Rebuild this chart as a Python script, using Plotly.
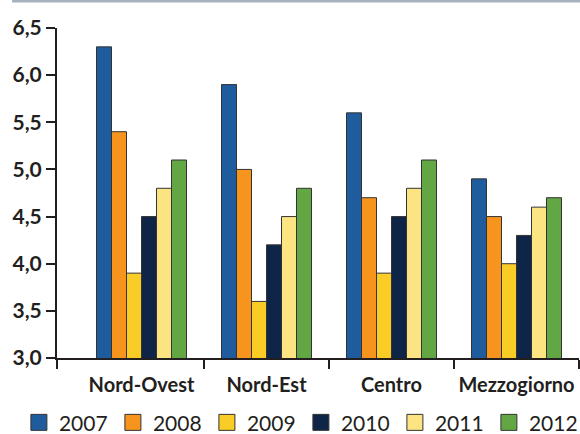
import plotly.graph_objects as go

categories = ["Nord-Ovest", "Nord-Est", "Centro", "Mezzogiorno"]
years = ["2007", "2008", "2009", "2010", "2011", "2012"]
v2007 = [6.3, 5.9, 5.6, 4.9]
v2008 = [5.4, 5.0, 4.7, 4.5]
v2009 = [3.9, 3.6, 3.9, 4.0]
v2010 = [4.5, 4.2, 4.5, 4.3]
v2011 = [4.8, 4.5, 4.8, 4.6]
v2012 = [5.1, 4.8, 5.1, 4.7]
series = [v2007, v2008, v2009, v2010, v2011, v2012]
colors = ["#1f5c9e", "#f7941d", "#f9cc26", "#0f2548", "#fde483", "#63a744"]
y_ticks = [3.0, 3.5, 4.0, 4.5, 5.0, 5.5, 6.0, 6.5]
y_ticktext = ["3,0", "3,5", "4,0", "4,5", "5,0", "5,5", "6,0", "6,5"]

dark = "#231f20"
font_family = "Lato"
xpos = list(range(len(categories)))
x_lo = -0.676
x_hi = len(categories) - 0.5

fig = go.Figure()
for name, vals, col in zip(years, series, colors):
    fig.add_trace(go.Bar(
        x=xpos, y=vals, name=name, showlegend=False,
        marker=dict(color=col, line=dict(color="#333333", width=1)),
    ))
# legend proxies (large square swatches)
for name, col in zip(years, colors):
    fig.add_trace(go.Scatter(
        x=[None], y=[None], mode="markers", name=name,
        marker=dict(symbol="square", size=22, color=col,
                    line=dict(color="#333333", width=1)),
    ))

fig.update_layout(
    width=580, height=434,
    margin=dict(l=57, r=1, t=28, b=76, autoexpand=False),
    paper_bgcolor="white", plot_bgcolor="white",
    barmode="group", bargap=0.28, bargroupgap=0,
    showlegend=True,
    legend=dict(
        orientation="h", x=-0.073, xanchor="left", y=-0.134, yanchor="top",
        font=dict(family=font_family, size=21, color=dark),
        itemwidth=30, itemsizing="trace", bgcolor="rgba(0,0,0,0)",
        entrywidth=49, entrywidthmode="pixels",
    ),
    xaxis=dict(
        range=[x_lo, x_hi],
        tickmode="array", tickvals=xpos, ticktext=categories,
        ticks="", showgrid=False, zeroline=False,
        showline=True, linecolor=dark, linewidth=2,
        tickfont=dict(family=font_family, size=20, color=dark, weight="bold"),
        ticklabelstandoff=8,
        minor=dict(tickvals=[x_lo] + [i + 0.5 for i in xpos], ticks="outside",
                   ticklen=9, tickwidth=2, tickcolor=dark, showgrid=False),
    ),
    yaxis=dict(
        range=[3.0, 6.5],
        tickmode="array", tickvals=y_ticks, ticktext=y_ticktext,
        ticks="outside", ticklen=9, tickwidth=2, tickcolor=dark,
        showgrid=False, zeroline=False,
        showline=True, linecolor=dark, linewidth=2,
        tickfont=dict(family=font_family, size=21, color=dark, weight="bold"),
    ),
    shapes=[dict(type="line", xref="paper", yref="paper",
                 x0=-0.086, x1=1.01, y0=1.082, y1=1.082,
                 line=dict(color="#a5b1bd", width=3))],
)

fig.write_html("out.html", config={"displayModeBar": False},
               post_script="document.body.style.margin='0';document.body.style.overflow='hidden';")
